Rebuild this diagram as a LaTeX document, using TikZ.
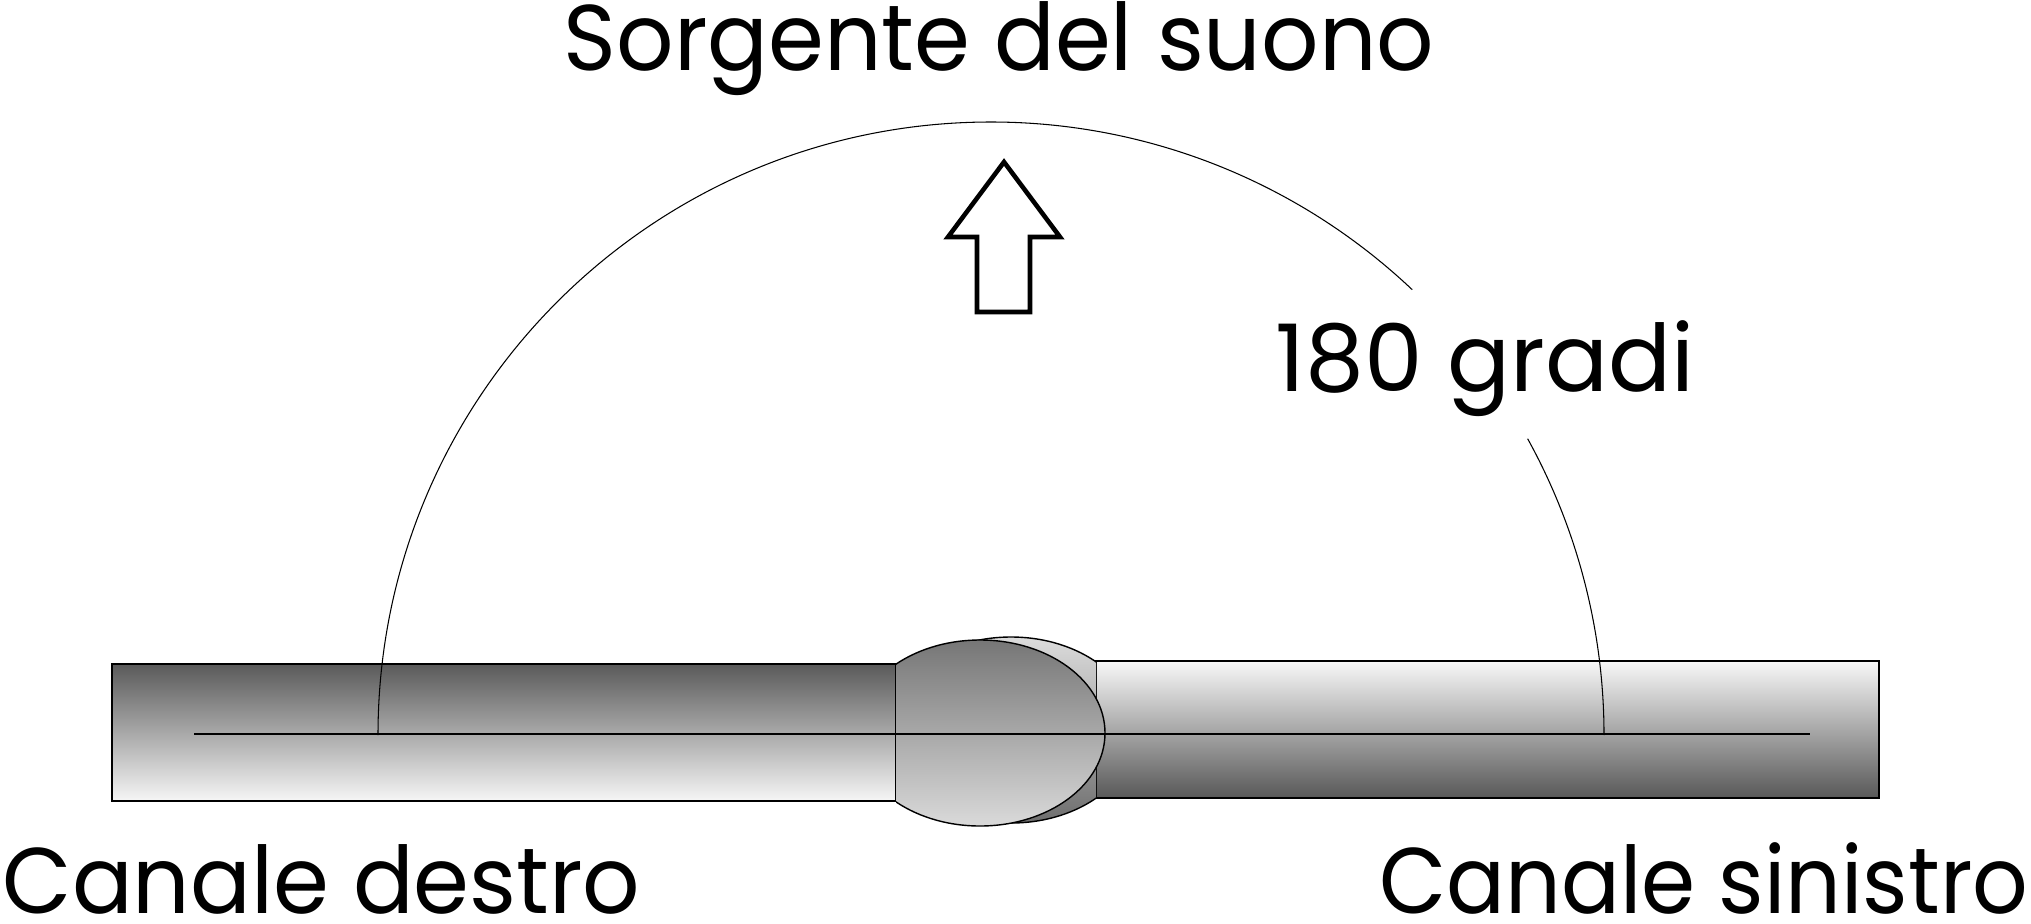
\documentclass[tikz,border=0pt]{standalone}
\usepackage{fontspec}
\setmainfont{Poppins}
\begin{document}
\begin{tikzpicture}[x=0.01cm,y=0.01cm,font=\fontsize{26.5}{31}\selectfont,
  bar/.style={draw,line width=.4pt},
  thin/.style={line width=.3pt},
  lbl/.style={inner sep=0pt},
  narrow/.style={font=\fontsize{26.5}{31}\selectfont\addfontfeature{FakeStretch=#1}}]
\useasboundingbox (0,0) rectangle (2031,923);
\shade[bar,top color={rgb,255:red,90;green,90;blue,90},bottom color={rgb,255:red,246;green,246;blue,246}] (112,122) rectangle (896,259);
\shade[bar,top color={rgb,255:red,248;green,248;blue,248},bottom color={rgb,255:red,88;green,88;blue,88}] (1096,125) rectangle (1879,262);
\begin{scope}
\clip (896,0) rectangle (1096,400);
\shade[bar,top color={rgb,255:red,220;green,220;blue,220},bottom color={rgb,255:red,110;green,110;blue,110}] (1011,193) ellipse [x radius=125,y radius=93];
\end{scope}
\begin{scope}
\clip (896,0) rectangle (1200,400);
\shade[bar,top color={rgb,255:red,118;green,118;blue,118},bottom color={rgb,255:red,218;green,218;blue,218}] (980,190) ellipse [x radius=125,y radius=93];
\end{scope}
\draw[thin] (194,189) -- (1810,189);
\coordinate (c) at (991,188);
\draw[thin] (c) ++(180:613) arc[start angle=180,end angle=46.6,radius=613];
\draw[thin] (c) ++(28.9:613) arc[start angle=28.9,end angle=0,radius=613];
\draw[line width=1.3pt] (1004,761) -- (1060,686) -- (1030,686) -- (1030,611) -- (977,611) -- (977,686) -- (948,686) -- cycle;
\node[lbl,narrow=0.965,anchor=base] (src) at (999,853) {Sorgente del suono};
\node[lbl,anchor=base] (deg) at (1485,532) {180 gradi};
\node[lbl,narrow=0.965,anchor=base west] (chdx) at (2,10) {Canale destro};
\node[lbl,narrow=0.935,anchor=base east] (chsx) at (2029,10) {Canale sinistro};
\end{tikzpicture}
\end{document}
